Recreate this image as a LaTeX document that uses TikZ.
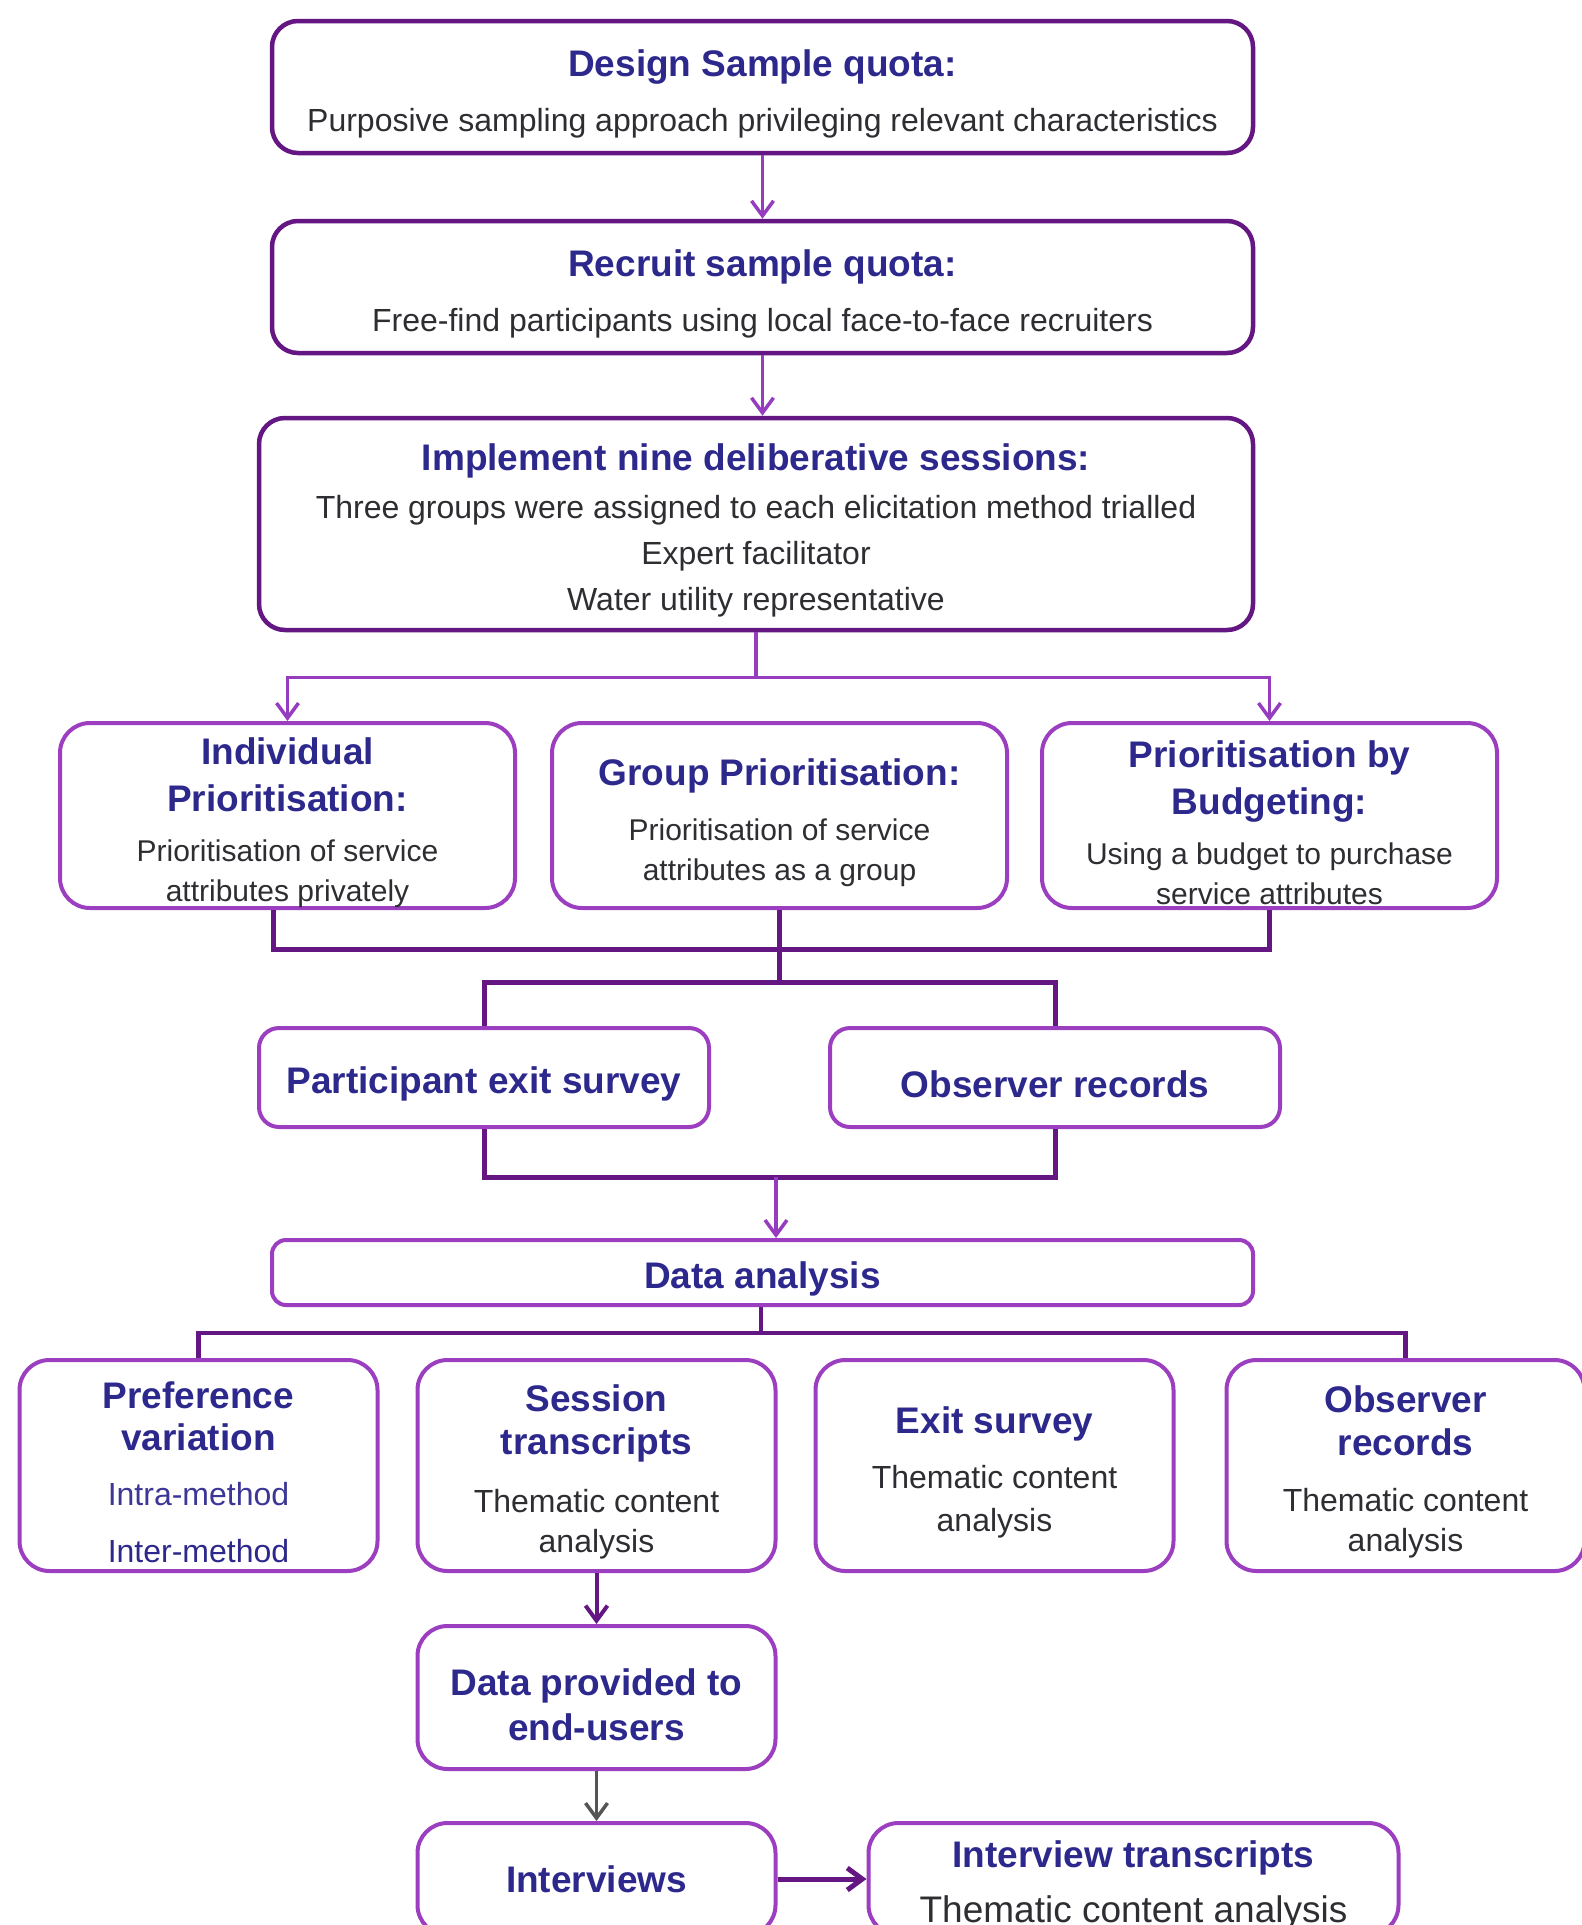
\documentclass[tikz,border=0pt]{standalone}
\usepackage{fontspec}
\setmainfont{Liberation Sans}
\usetikzlibrary{positioning, arrows.meta}
\usepackage{xcolor}

\definecolor{deeppurple}{RGB}{100,22,130}
\definecolor{boxpurple}{RGB}{155,62,192}
\definecolor{linkpurple}{RGB}{150,60,190}
\definecolor{titleblue}{RGB}{45,40,140}
\definecolor{methodblue}{RGB}{60,55,150}
\definecolor{bodygray}{RGB}{45,45,50}
\definecolor{linkgray}{RGB}{85,85,85}

\newcommand{\ttl}{\bfseries\fontsize{37}{40}\selectfont\color{titleblue}}
\newcommand{\hd}{\rule{0pt}{40.5pt}}

\begin{document}
\begin{tikzpicture}[
        x=1pt, y=-1pt,
        >={Straight Barb[length=15pt,width=22pt]},
        every node/.style={
            align=center,
            inner sep=0pt,
            text=bodygray,
            font=\fontsize{32}{40}\selectfont
        },
        stagebox/.style={draw=deeppurple, line width=4.5pt, rounded corners=26pt,
            minimum width=981pt, minimum height=132pt},
        methodbox/.style={draw=boxpurple, line width=4pt, rounded corners=30pt,
            minimum width=455pt, minimum height=185pt, font=\fontsize{30}{40}\selectfont},
        recordbox/.style={draw=boxpurple, line width=4pt, rounded corners=20pt,
            minimum width=450pt, minimum height=99pt},
        analysisbox/.style={draw=boxpurple, line width=4pt, rounded corners=30pt,
            minimum width=358pt, minimum height=211pt},
        link/.style={draw=linkpurple, line width=3.5pt},
        merge/.style={draw=deeppurple, line width=5pt}
    ]
        \useasboundingbox (0,0) rectangle (1582,1925);

        % Preparation stages
        \node[stagebox] (design) at (762.5,87)
            {{\ttl\hd Design Sample quota:}\\[15pt]Purposive sampling approach privileging relevant characteristics};
        \node[stagebox, below=63.5pt of design] (recruit)
            {{\ttl\hd Recruit sample quota:}\\[15pt]Free-find participants using local face-to-face recruiters};
        \node[stagebox, minimum width=994pt, minimum height=212pt] (implement) at (756,524)
            {{\ttl\hd Implement nine deliberative sessions:}\\[8pt]Three groups were assigned to each elicitation method trialled\\[6pt]Expert facilitator\\[6pt]Water utility representative};

        % Elicitation methods
        \node[methodbox] (indiv) at (287.5,815.5)
            {{\ttl\hd Individual}\\[7pt]{\ttl Prioritisation:}\\[10pt]Prioritisation of service\\attributes privately};
        \node[methodbox, right=33pt of indiv] (group)
            {{\ttl\hd Group Prioritisation:}\\[15pt]Prioritisation of service\\attributes as a group};
        \node[methodbox, right=31pt of group] (budget)
            {{\ttl\hd Prioritisation by}\\[7pt]{\ttl Budgeting:}\\[10pt]Using a budget to purchase\\service attributes};

        % Data collected
        \node[recordbox] (exitsurvey) at (484,1077.5) {\ttl\hd Participant exit survey};
        \node[recordbox, right=117pt of exitsurvey] (observer) {\ttl\hd Observer records};
        \node[draw=boxpurple, line width=4pt, rounded corners=14pt, minimum width=981pt,
            minimum height=65pt] (analysis) at (762.5,1272.5) {\ttl\hd Data analysis};

        % Analysis strands
        \node[analysisbox] (pref) at (198.5,1465.5)
            {{\ttl\hd Preference}\\[2pt]{\ttl variation}\\[15pt]{\color{methodblue}Intra-method}\\[17pt]{\color{titleblue}Inter-method}};
        \node[analysisbox, right=36pt of pref] (session)
            {{\ttl\hd Session}\\[3pt]{\ttl transcripts}\\[18pt]Thematic content\\analysis};
        \node[analysisbox, right=36pt of session] (exit)
            {{\ttl\hd Exit survey}\\[15pt]Thematic content\\[3pt]analysis};
        \node[analysisbox, right=49pt of exit] (obsrec)
            {{\ttl\hd Observer}\\[3pt]{\ttl records}\\[16pt]Thematic content\\analysis};

        % Follow-up with end-users
        \node[analysisbox, minimum height=143pt, below=51pt of session] (provided)
            {{\ttl\hd Data provided to}\\[5pt]{\ttl end-users}};
        \node[analysisbox, minimum height=112pt, below=50pt of provided] (interviews)
            {\ttl Interviews};
        \node[analysisbox, minimum width=530pt, minimum height=112pt, right=89pt of interviews] (itrans)
            {{\ttl\hd Interview transcripts}\\[15pt]{\fontsize{37}{40}\selectfont Thematic content analysis}};

        % Sequential arrows
        \draw[link, ->] (design) -- (recruit);
        \draw[link, ->] (recruit.south) -- (recruit.south |- implement.north);
        \draw[link] (implement.south) -- ++(0,45) coordinate (splitA);
        \draw[link, ->] (splitA) -| (indiv.north);
        \draw[link, ->] (splitA) -| (budget.north);

        % Gathering the sessions
        \coordinate (gatherA) at ([yshift=-39pt]group.south);
        \coordinate (splitB) at ([yshift=-72pt]group.south);
        \draw[merge] ([xshift=-14pt]indiv.south) |- (gatherA) -| (budget.south);
        \draw[merge] (group.south) -- (splitB);
        \draw[merge] (exitsurvey.north) |- (splitB) -| (observer.north);

        \coordinate (gatherC) at (776,1177);
        \draw[merge] (exitsurvey.south) |- (gatherC) -| (observer.south);
        \draw[link, ->] (gatherC) -- (gatherC |- analysis.north);

        \coordinate (splitD) at (761,1333);
        \draw[merge, line width=4.5pt] (analysis.south -| splitD) -- (splitD);
        \draw[merge, line width=4.5pt] (pref.north) |- (splitD) -| (obsrec.north);

        % Transcripts to end-users
        \draw[merge, line width=4pt, ->] (session) -- (provided);
        \draw[draw=linkgray, line width=3.5pt, ->] (provided) -- (interviews);
        \draw[merge, ->] (interviews) -- (itrans);
    \end{tikzpicture}
\end{document}
